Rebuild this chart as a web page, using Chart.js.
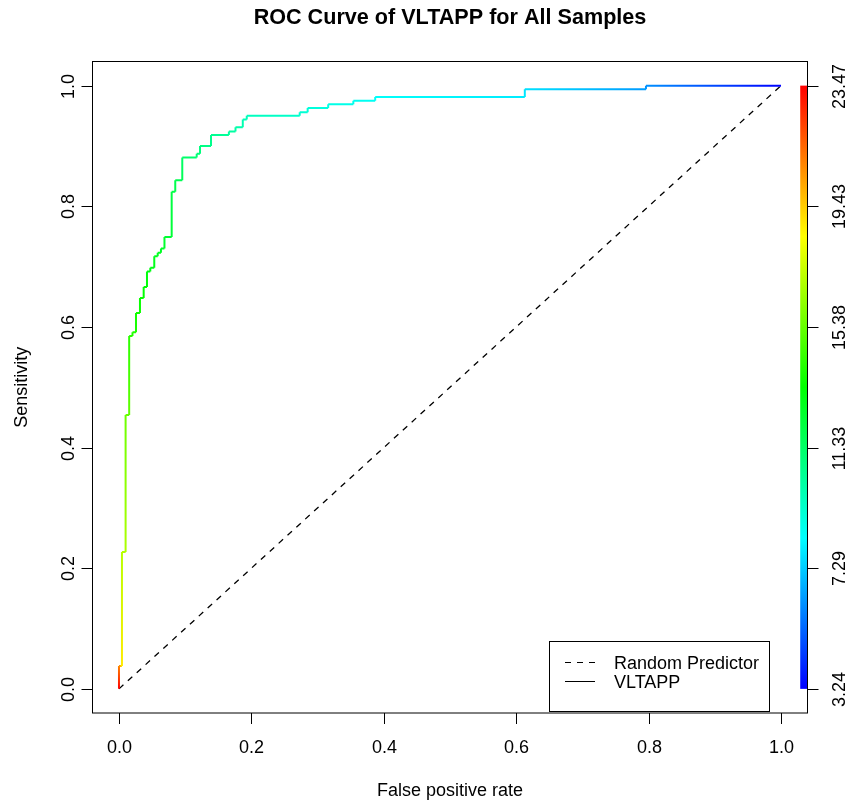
<!DOCTYPE html>
<html>
<head>
<meta charset="utf-8">
<title>ROC Curve of VLTAPP for All Samples</title>
<script src="https://cdn.jsdelivr.net/npm/chart.js@4.4.1/dist/chart.umd.min.js"></script>
<style>
  html, body { margin: 0; padding: 0; background: #fff; }
</style>
</head>
<body>
<canvas id="rocChart" width="853" height="805"></canvas>
<script>
// --- Datos de la curva (esquinas de la escalera ROC) ---
const fpr = [0, 0, 0.0045, 0.0045, 0.010, 0.010, 0.0154, 0.0154, 0.0204, 0.0204,
  0.0257, 0.0257, 0.0317, 0.0317, 0.0373, 0.0373, 0.0423, 0.0423, 0.0473, 0.0473,
  0.0533, 0.0533, 0.0585, 0.0585, 0.0634, 0.0634, 0.0687, 0.0687, 0.0796, 0.0796,
  0.0850, 0.0850, 0.0956, 0.0956, 0.1174, 0.1174, 0.1224, 0.1224, 0.139, 0.139,
  0.166, 0.166, 0.176, 0.176, 0.187, 0.187, 0.193, 0.193, 0.273, 0.273,
  0.285, 0.285, 0.316, 0.316, 0.354, 0.354, 0.387, 0.387, 0.613, 0.613,
  0.796, 0.796, 1.0];
const tpr = [0, 0.038, 0.038, 0.227, 0.227, 0.454, 0.454, 0.585, 0.585, 0.591,
  0.591, 0.623, 0.623, 0.648, 0.648, 0.666, 0.666, 0.692, 0.692, 0.698,
  0.698, 0.717, 0.717, 0.723, 0.723, 0.730, 0.730, 0.749, 0.749, 0.824,
  0.824, 0.843, 0.843, 0.881, 0.881, 0.887, 0.887, 0.900, 0.900, 0.918,
  0.918, 0.924, 0.924, 0.931, 0.931, 0.944, 0.944, 0.950, 0.950, 0.956,
  0.956, 0.963, 0.963, 0.969, 0.969, 0.975, 0.975, 0.981, 0.981, 0.994,
  0.994, 1.0, 1.0];
// punto de corte en cada esquina (da el color)
const cutoffs = [23.47, 20.9, 18.8, 17.0, 16.8, 15.5, 15.3, 14.2, 14.1, 14.0,
  13.9, 13.7, 13.6, 13.5, 13.4, 13.3, 13.2, 13.1, 13.0, 12.95,
  12.9, 12.8, 12.75, 12.7, 12.65, 12.6, 12.55, 12.4, 12.3, 12.0,
  11.9, 11.8, 11.7, 11.3, 11.1, 11.0, 10.95, 10.8, 10.6, 10.5,
  10.3, 10.2, 10.1, 10.0, 9.9, 9.8, 9.7, 9.6, 9.3, 9.2,
  9.1, 9.0, 8.9, 8.8, 8.7, 8.6, 8.5, 8.4, 7.9, 7.7,
  6.3, 6.1, 3.24];
const diagonalX = [0, 1];
const diagonalY = [0, 1];
const xTicks = [0, 0.2, 0.4, 0.6, 0.8, 1.0];
const yTicks = [0, 0.2, 0.4, 0.6, 0.8, 1.0];
const colorTicks = [3.24, 7.29, 11.33, 15.38, 19.43, 23.47];
const legendLabels = ['Random Predictor', 'VLTAPP'];

const cMin = colorTicks[0];
const cMax = colorTicks[colorTicks.length - 1];
const cPad = 0.04 * (cMax - cMin);
const FUENTE = '"Liberation Sans", Arial, Helvetica, sans-serif';

const canvas = document.getElementById('rocChart');
const ctxRoc = canvas.getContext('2d');

// rainbow de R: rojo para el corte mas alto, azul para el mas bajo
const colorCorte = (c) => `hsl(${240 * (cMax - c) / (cMax - cMin)}, 100%, 50%)`;

const gradienteSegmento = (seg) => {
    const g = ctxRoc.createLinearGradient(seg.p0.x, seg.p0.y, seg.p1.x, seg.p1.y);
    g.addColorStop(0, colorCorte(cutoffs[seg.p0DataIndex]));
    g.addColorStop(1, colorCorte(cutoffs[seg.p1DataIndex]));
    return g;
};

// --- Plugin: caja, ejes, barra de color y leyenda estilo R ---
const decoracionR = {
    id: 'decoracionR',
    afterDraw(chart) {
        const { ctx, chartArea, scales } = chart;
        const { x, y, y2 } = scales;
        const tick = 11;
        ctx.save();

        // barra de colores
        const top = y2.getPixelForValue(cMax);
        const bottom = y2.getPixelForValue(cMin);
        const left = x.getPixelForValue(1.029);
        const grad = ctx.createLinearGradient(0, bottom, 0, top);
        for (let i = 0; i <= 24; i++) {
            grad.addColorStop(i / 24, `hsl(${240 - i * 10}, 100%, 50%)`);
        }
        ctx.fillStyle = grad;
        ctx.fillRect(left, top, chartArea.right - left, bottom - top);

        // caja
        ctx.strokeStyle = '#000';
        ctx.lineWidth = 1;
        ctx.strokeRect(chartArea.left, chartArea.top, chartArea.width, chartArea.height);

        ctx.fillStyle = '#000';
        ctx.font = `18px ${FUENTE}`;
        ctx.textAlign = 'center';
        ctx.textBaseline = 'alphabetic';

        // eje x
        xTicks.forEach(v => {
            const px = Math.round(x.getPixelForValue(v)) + 0.5;
            ctx.beginPath();
            ctx.moveTo(px, chartArea.bottom);
            ctx.lineTo(px, chartArea.bottom + tick);
            ctx.stroke();
            ctx.fillText(v.toFixed(1), px, 752.5);
        });

        // eje y izquierdo (etiquetas giradas)
        yTicks.forEach(v => {
            const py = Math.round(y.getPixelForValue(v)) + 0.5;
            ctx.beginPath();
            ctx.moveTo(chartArea.left, py);
            ctx.lineTo(chartArea.left - tick, py);
            ctx.stroke();
            ctx.save();
            ctx.translate(73.5, py);
            ctx.rotate(-Math.PI / 2);
            ctx.fillText(v.toFixed(1), 0, 0);
            ctx.restore();
        });

        // eje derecho de la barra de color
        colorTicks.forEach(v => {
            const py = Math.round(y2.getPixelForValue(v)) + 0.5;
            ctx.beginPath();
            ctx.moveTo(chartArea.right, py);
            ctx.lineTo(chartArea.right + tick, py);
            ctx.stroke();
            ctx.save();
            ctx.translate(845, py);
            ctx.rotate(-Math.PI / 2);
            ctx.fillText(v.toFixed(2), 0, 0);
            ctx.restore();
        });

        // titulos de ejes
        const cx = (chartArea.left + chartArea.right) / 2;
        const cy = (chartArea.top + chartArea.bottom) / 2;
        ctx.fillText('False positive rate', cx, 796);
        ctx.save();
        ctx.translate(26.5, cy);
        ctx.rotate(-Math.PI / 2);
        ctx.fillText('Sensitivity', 0, 0);
        ctx.restore();

        // leyenda
        const lx = 549.5, ly = 641.5, lw = 220, lh = 70;
        ctx.fillStyle = '#fff';
        ctx.fillRect(lx, ly, lw, lh);
        ctx.strokeRect(lx, ly, lw, lh);
        ctx.fillStyle = '#000';
        ctx.textAlign = 'left';
        const filas = [662.5, 681.5];
        legendLabels.forEach((txt, i) => {
            ctx.beginPath();
            ctx.setLineDash(i === 0 ? [6, 6] : []);
            ctx.moveTo(565, filas[i]);
            ctx.lineTo(595, filas[i]);
            ctx.stroke();
            ctx.setLineDash([]);
            ctx.fillText(txt, 614, filas[i] + 6.5);
        });

        ctx.restore();
    }
};

const rocChart = new Chart(ctxRoc, {
    type: 'scatter',
    data: {
        datasets: [{
            label: legendLabels[1],
            data: fpr.map((v, i) => ({ x: v, y: tpr[i] })),
            showLine: true,
            pointRadius: 0,
            borderWidth: 2,
            borderColor: colorCorte(cutoffs[0]),
            segment: { borderColor: gradienteSegmento }
        }, {
            label: legendLabels[0],
            data: diagonalX.map((v, i) => ({ x: v, y: diagonalY[i] })),
            showLine: true,
            pointRadius: 0,
            borderWidth: 1.3,
            borderColor: '#000',
            borderDash: [6, 6]
        }]
    },
    options: {
        responsive: false,
        animation: false,
        devicePixelRatio: 1,
        layout: { padding: { left: 92.5, right: 45.5, top: 0, bottom: 92 } },
        scales: {
            x: { type: 'linear', min: -0.04, max: 1.04, display: false },
            y: { type: 'linear', min: -0.04, max: 1.04, display: false },
            y2: { type: 'linear', position: 'right', min: cMin - cPad, max: cMax + cPad, display: false }
        },
        plugins: {
            title: {
                display: true,
                text: 'ROC Curve of VLTAPP for All Samples',
                color: '#000',
                font: { family: FUENTE, size: 21.6, weight: 'bold' },
                padding: { top: 5, bottom: 30.58 }
            },
            legend: { display: false },
            tooltip: { enabled: false }
        }
    },
    plugins: [decoracionR]
});
</script>
</body>
</html>
